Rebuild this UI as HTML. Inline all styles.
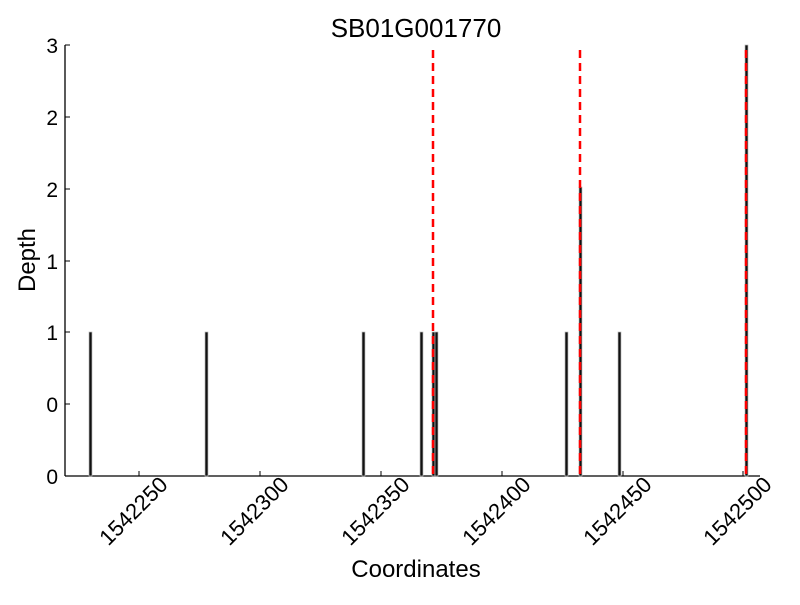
<!DOCTYPE html><html><head><meta charset="utf-8"><style>body{margin:0;background:#fff}</style></head><body>
<svg width="800" height="600" xmlns="http://www.w3.org/2000/svg" font-family="Liberation Sans, sans-serif">
<rect width="800" height="600" fill="#fff"/>
<text x="416" y="37" font-size="26" text-anchor="middle">SB01G001770</text>
<g stroke="#000" stroke-width="1.3" fill="none">
<line x1="65" y1="45" x2="65" y2="476"/><line x1="65" y1="476" x2="760" y2="476"/>
</g>
<g stroke="#000" stroke-width="1">
<line x1="65" y1="45" x2="70" y2="45"/><line x1="65" y1="117" x2="70" y2="117"/><line x1="65" y1="189" x2="70" y2="189"/><line x1="65" y1="261" x2="70" y2="261"/><line x1="65" y1="332" x2="70" y2="332"/><line x1="65" y1="404" x2="70" y2="404"/>
<line x1="139" y1="476" x2="139" y2="471"/><line x1="260" y1="476" x2="260" y2="471"/><line x1="381" y1="476" x2="381" y2="471"/><line x1="502" y1="476" x2="502" y2="471"/><line x1="623" y1="476" x2="623" y2="471"/><line x1="743" y1="476" x2="743" y2="471"/>
</g>
<g font-size="21" text-anchor="end">
<text x="58" y="53">3</text><text x="58" y="125">2</text><text x="58" y="197">2</text><text x="58" y="269">1</text><text x="58" y="340">1</text><text x="58" y="412">0</text><text x="58" y="484">0</text>
</g>
<g font-size="22" text-anchor="end">
<text transform="translate(169,486) rotate(-45)">1542250</text>
<text transform="translate(290,486) rotate(-45)">1542300</text>
<text transform="translate(411,486) rotate(-45)">1542350</text>
<text transform="translate(532,486) rotate(-45)">1542400</text>
<text transform="translate(653,486) rotate(-45)">1542450</text>
<text transform="translate(773,486) rotate(-45)">1542500</text>
</g>
<text x="416" y="577" font-size="24" text-anchor="middle">Coordinates</text>
<text transform="translate(35,260) rotate(-90)" font-size="24" text-anchor="middle">Depth</text>
<g fill="#111" stroke="#bbb" stroke-width="0.7">
<rect x="89" y="332" width="3" height="144"/><rect x="205" y="332" width="3" height="144"/><rect x="362" y="332" width="3" height="144"/><rect x="420" y="332" width="3" height="144"/><rect x="432" y="332" width="3" height="144"/><rect x="435" y="332" width="3" height="144"/><rect x="565" y="332" width="3" height="144"/><rect x="579" y="187" width="3" height="289"/><rect x="618" y="332" width="3" height="144"/><rect x="745" y="45" width="3" height="431"/>
</g>
<g stroke="#f00" stroke-width="2.5" stroke-dasharray="8,5">
<line x1="433" y1="50" x2="433" y2="476"/><line x1="580" y1="50" x2="580" y2="476"/><line x1="746" y1="50" x2="746" y2="476"/>
</g>
</svg></body></html>
